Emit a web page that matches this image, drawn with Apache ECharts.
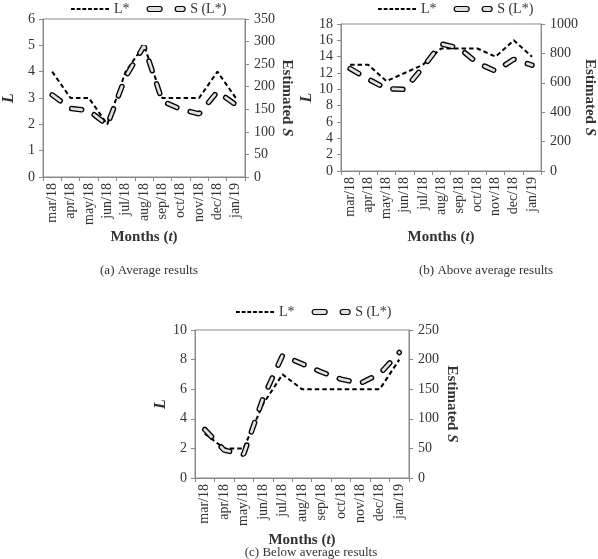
<!DOCTYPE html>
<html><head><meta charset="utf-8">
<script src="https://cdn.jsdelivr.net/npm/echarts@6/dist/echarts.min.js"></script>
<style>html,body{margin:0;padding:0;background:#fff}#c{width:598px;height:559px}</style>
</head><body><div id="c"></div>
<script>
// ---- data ----
const months = ['mar/18','apr/18','may/18','jun/18','jul/18','aug/18','sep/18','oct/18','nov/18','dec/18','jan/19'];
const lAverage = [4, 3, 3, 2, 4, 5, 3, 3, 3, 4, 3];
const sAverage = [182, 152, 147, 115, 222, 290, 168, 150, 140, 189, 160];
const lAbove   = [13, 13, 11, 12, 13, 15, 15, 15, 14, 16, 14];
const sAbove   = [697, 625, 560, 555, 705, 865, 835, 735, 680, 760, 720];
const lBelow   = [3, 2, 2, 5, 7, 6, 6, 6, 6, 6, 8];
const sBelow   = [82, 47, 40, 135, 207, 193, 179, 167, 160, 176, 212];
const lTicksAverage = [0, 1, 2, 3, 4, 5, 6];
const sTicksAverage = [0, 50, 100, 150, 200, 250, 300, 350];
const lTicksAbove = [0, 2, 4, 6, 8, 10, 12, 14, 16, 18];
const sTicksAbove = [0, 200, 400, 600, 800, 1000];
const lTicksBelow = [0, 2, 4, 6, 8, 10];
const sTicksBelow = [0, 50, 100, 150, 200, 250];
const captions = ['(a) Average results', '(b) Above average results', '(c) Below average results'];
const legendNames = ['L*', 'S (L*)'];

// ---- layout ----
const FONT = 'Liberation Serif';
const AXIS = '#898989';
const TXT = '#333333';
const panels = [
  {L: lAverage, S: sAverage, lt: lTicksAverage, st: sTicksAverage, cap: captions[0],
   grid: {left: 23, top: 19, width: 222, height: 158}, lGap: 26, sGap: 34, xGap: 53,
   legend: {left: 71, top: 2}, capPos: [149, 271]},
  {L: lAbove, S: sAbove, lt: lTicksAbove, st: sTicksAbove, cap: captions[1],
   grid: {left: 341, top: 24, width: 209, height: 147}, lGap: 24, sGap: 32, xGap: 59,
   legend: {left: 378, top: 2}, capPos: [486, 271]},
  {L: lBelow, S: sBelow, lt: lTicksBelow, st: sTicksBelow, cap: captions[2],
   grid: {left: 195, top: 330, width: 214, height: 148}, lGap: 25, sGap: 35, xGap: 55,
   legend: {left: 236, top: 305}, capPos: [311, 553]}
];

const L_ICON = 'path://M0 0h3.8v2h-3.8z M5.7 0h3.8v2h-3.8z M11.4 0h3.8v2h-3.8z M17.1 0h3.8v2h-3.8z M22.8 0h3.8v2h-3.8z M28.5 0h3.8v2h-3.8z M34.2 0h3.8v2h-3.8z';
const S_ICON = 'path://M2.5 0L12.5 0A2.5 2.5 0 0 1 12.5 5L2.5 5A2.5 2.5 0 0 1 2.5 0Z M30.5 0L35.5 0A2.5 2.5 0 0 1 35.5 5L30.5 5A2.5 2.5 0 0 1 30.5 0Z';

const grids = [], xAxes = [], yAxes = [], series = [], legends = [], graphics = [];
const lbl = {fontFamily: FONT, fontSize: 14, color: TXT, formatter: v => String(v)};
const nameStyle = {fontFamily: FONT, fontSize: 15, fontWeight: 'bold', color: TXT,
  rich: {i: {fontFamily: FONT, fontSize: 15, fontWeight: 'bold', fontStyle: 'italic', color: TXT}}};

panels.forEach((p, i) => {
  grids.push(Object.assign({show: true, borderColor: AXIS, borderWidth: 1, containLabel: false}, p.grid));
  xAxes.push({
    type: 'category', gridIndex: i, data: months, boundaryGap: true,
    name: 'Months ({i|t})', nameLocation: 'middle', nameGap: p.xGap, nameTextStyle: nameStyle,
    axisLine: {show: true, lineStyle: {color: AXIS, width: 1}},
    axisTick: {show: true, length: 4, lineStyle: {color: AXIS}},
    axisLabel: {rotate: 90, interval: 0, margin: 6, fontFamily: FONT, fontSize: 14, color: TXT},
    splitLine: {show: false}
  });
  yAxes.push({
    type: 'value', gridIndex: i, position: 'left',
    min: p.lt[0], max: p.lt[p.lt.length - 1], interval: p.lt[1] - p.lt[0],
    name: 'L', nameLocation: 'middle', nameGap: p.lGap,
    nameTextStyle: {fontFamily: FONT, fontSize: 16, fontWeight: 'bold', fontStyle: 'italic', color: TXT},
    axisLine: {show: true, lineStyle: {color: AXIS, width: 1}},
    axisTick: {show: true, length: 4, lineStyle: {color: AXIS}},
    axisLabel: Object.assign({margin: 8}, lbl),
    splitLine: {show: false}
  });
  yAxes.push({
    type: 'value', gridIndex: i, position: 'right',
    min: p.st[0], max: p.st[p.st.length - 1], interval: p.st[1] - p.st[0],
    name: 'Estimated {i|S}', nameLocation: 'middle', nameGap: p.sGap, nameRotate: -90,
    nameTextStyle: nameStyle,
    axisLine: {show: true, lineStyle: {color: AXIS, width: 1}},
    axisTick: {show: true, length: 4, lineStyle: {color: AXIS}},
    axisLabel: Object.assign({margin: 9}, lbl),
    splitLine: {show: false}
  });
  series.push({
    name: legendNames[0], type: 'line', xAxisIndex: i, yAxisIndex: 2 * i, data: p.L,
    symbol: 'none', lineStyle: {color: '#000', width: 2, type: [4.5, 3]}
  });
  series.push({
    name: legendNames[1], type: 'line', xAxisIndex: i, yAxisIndex: 2 * i + 1, data: p.S,
    symbol: 'none', lineStyle: {color: '#000', width: 5.5, type: [10, 14], cap: 'round'}
  });
  series.push({
    name: 'S inner', type: 'line', xAxisIndex: i, yAxisIndex: 2 * i + 1, data: p.S,
    symbol: 'none', lineStyle: {color: '#e0e0e0', width: 2.8, type: [10, 14], cap: 'round'}
  });
  legends.push({
    left: p.legend.left, top: p.legend.top, padding: 0, orient: 'horizontal',
    itemWidth: 38, itemHeight: 8, itemGap: 17, selectedMode: false,
    textStyle: {fontFamily: FONT, fontSize: 14, color: TXT},
    data: [
      {name: legendNames[0], icon: L_ICON, itemStyle: {color: '#000', borderWidth: 0}},
      {name: legendNames[1], icon: S_ICON, itemStyle: {color: '#e0e0e0', borderColor: '#000', borderWidth: 1.2}}
    ]
  });
  graphics.push({
    type: 'text', x: p.capPos[0], y: p.capPos[1],
    style: {text: p.cap, font: '13px "Liberation Serif"', fill: TXT, textAlign: 'center', textVerticalAlign: 'middle'}
  });
});

const chart = echarts.init(document.getElementById('c'), null, {renderer: 'canvas'});
chart.setOption({
  animation: false,
  backgroundColor: '#fff',
  textStyle: {fontFamily: FONT},
  grid: grids, xAxis: xAxes, yAxis: yAxes, series: series, legend: legends,
  graphic: graphics
});
</script></body></html>
